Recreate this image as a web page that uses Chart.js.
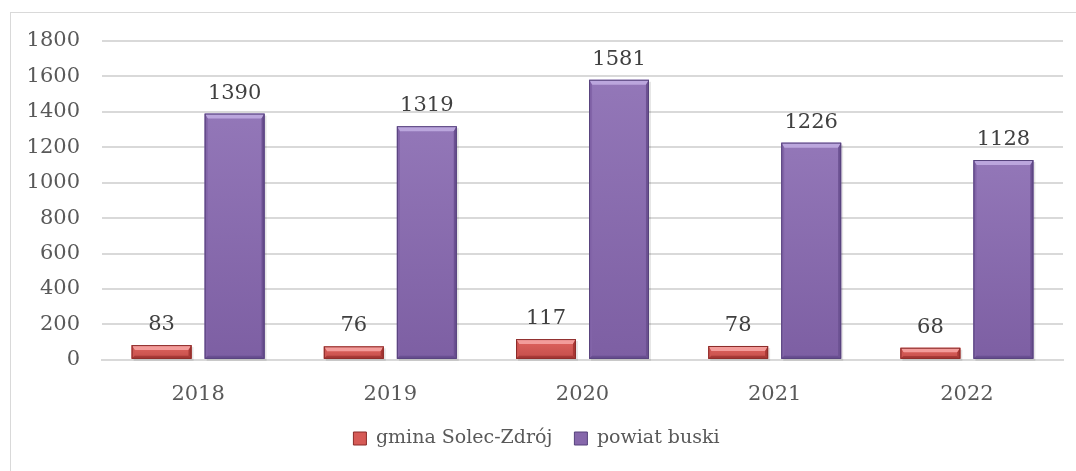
<!DOCTYPE html>
<html>
<head>
<meta charset="utf-8">
<script src="https://cdn.jsdelivr.net/npm/chart.js@4"></script>
<style>
  html, body { margin: 0; padding: 0; background: #ffffff; }
  #wrap { position: relative; width: 1076px; height: 471px; overflow: hidden; }
  #frame { position: absolute; left: 10px; top: 12px; width: 1080px; height: 480px;
           border-left: 1px solid #d9d9d9; border-top: 1px solid #d9d9d9; box-sizing: border-box; }
  canvas { position: absolute; left: 0; top: 0; }
</style>
</head>
<body>
<div id="wrap">
  <div id="frame"></div>
  <canvas id="c" width="1076" height="471"></canvas>
</div>
<script>
const categories = ['2018', '2019', '2020', '2021', '2022'];
const seriesNames = ['gmina Solec-Zdrój', 'powiat buski'];
const gminaValues = [83, 76, 117, 78, 68];
const powiatValues = [1390, 1319, 1581, 1226, 1128];
const yTickValues = [0, 200, 400, 600, 800, 1000, 1200, 1400, 1600, 1800];

const FONT = '"DejaVu Serif", "Liberation Serif", serif';

const palettes = [
  { body: '#d65a56', bodyTop: '#e0645f', bodyBot: '#c44e4a', top: '#f39c9a', left: '#cf5652', right: '#a93835', bottom: '#a83a37', edge: '#8a2b29' },
  { body: '#8667ab', bodyTop: '#9377b8', bodyBot: '#7d5fa3', top: '#bba6dd', left: '#8264a8', right: '#6c5192', bottom: '#6a4f92', edge: '#56427c' }
];

const bevelPlugin = {
  id: 'bevel',
  afterDatasetsDraw(chart) {
    const ctx = chart.ctx;
    chart.data.datasets.forEach((ds, di) => {
      const meta = chart.getDatasetMeta(di);
      const p = palettes[di];
      meta.data.forEach(bar => {
        const w = bar.width;
        const l = bar.x - w / 2, r = bar.x + w / 2;
        const t = Math.min(bar.y, bar.base), b = Math.max(bar.y, bar.base);
        const h = b - t;
        const bt = Math.min(5, h / 2.5), bs = 3, bb = Math.min(3, h / 4);
        ctx.save();
        ctx.fillStyle = 'rgba(0,0,0,0.10)';
        ctx.fillRect(l + 2, t + 2, w, h);
        const g = ctx.createLinearGradient(0, t, 0, b);
        g.addColorStop(0, p.bodyTop);
        g.addColorStop(1, p.bodyBot);
        ctx.fillStyle = g;
        ctx.fillRect(l, t, w, h);
        const poly = (pts, col) => {
          ctx.beginPath();
          ctx.moveTo(pts[0][0], pts[0][1]);
          for (let i = 1; i < pts.length; i++) ctx.lineTo(pts[i][0], pts[i][1]);
          ctx.closePath();
          ctx.fillStyle = col;
          ctx.fill();
        };
        poly([[l, t], [r, t], [r - bs, t + bt], [l + bs, t + bt]], p.top);
        poly([[l, t], [l + bs, t + bt], [l + bs, b - bb], [l, b]], p.left);
        poly([[r, t], [r, b], [r - bs, b - bb], [r - bs, t + bt]], p.right);
        poly([[l, b], [l + bs, b - bb], [r - bs, b - bb], [r, b]], p.bottom);
        ctx.strokeStyle = p.edge;
        ctx.lineWidth = 1;
        ctx.strokeRect(l + 0.5, t + 0.5, w - 1, h - 1);
        ctx.restore();
      });
    });
  }
};

const labelPlugin = {
  id: 'valueLabels',
  afterDatasetsDraw(chart) {
    const ctx = chart.ctx;
    ctx.save();
    ctx.font = '21px ' + FONT;
    ctx.fillStyle = '#404040';
    ctx.textAlign = 'center';
    ctx.textBaseline = 'alphabetic';
    chart.data.datasets.forEach((ds, di) => {
      const meta = chart.getDatasetMeta(di);
      meta.data.forEach((bar, i) => {
        ctx.fillText(String(ds.data[i]), bar.x, bar.y - 15);
      });
    });
    ctx.restore();
  }
};

const LEGEND_TRIM = 33;
const LEGEND_LIFT = 14;
const legendTrim = {
  id: 'legendTrim',
  beforeLayout(chart) {
    const lg = chart.legend;
    if (lg && !lg._trimmed) {
      const orig = lg.fit;
      lg.fit = function () { orig.call(this); this.height -= LEGEND_TRIM; };
      lg._trimmed = true;
    }
  },
  afterLayout(chart) {
    const lg = chart.legend;
    if (lg) {
      lg.top -= LEGEND_LIFT;
      lg.bottom = chart.height;
      lg.height = lg.bottom - lg.top;
    }
  }
};

new Chart(document.getElementById('c'), {
  type: 'bar',
  data: {
    labels: categories,
    datasets: [
      { label: seriesNames[0], data: gminaValues, backgroundColor: palettes[0].body, borderColor: palettes[0].edge, borderWidth: 1 },
      { label: seriesNames[1], data: powiatValues, backgroundColor: palettes[1].body, borderColor: palettes[1].edge, borderWidth: 1 }
    ]
  },
  options: {
    responsive: false,
    animation: false,
    devicePixelRatio: 1,
    layout: { padding: { left: 10, right: 13, top: 41, bottom: 32 } },
    datasets: { bar: { categoryPercentage: 0.76, barPercentage: 0.82 } },
    plugins: {
      legend: {
        position: 'bottom',
        labels: {
          font: { family: FONT, size: 19 },
          color: '#595959',
          boxWidth: 13,
          boxHeight: 13,
          padding: 22
        }
      },
      tooltip: { enabled: false }
    },
    scales: {
      x: {
        grid: { display: false },
        border: { display: true, color: '#d9d9d9', width: 2 },
        ticks: { font: { family: FONT, size: 21 }, color: '#595959', padding: 14 }
      },
      y: {
        min: 0,
        max: 1800,
        afterBuildTicks(axis) { axis.ticks = yTickValues.map(v => ({ value: v })); },
        afterFit(axis) { axis.width = 92; },
        grid: { color: '#d9d9d9', lineWidth: 2, drawTicks: false },
        border: { display: false },
        ticks: { font: { family: FONT, size: 21 }, color: '#595959', padding: 22, callback: v => String(v) }
      }
    }
  },
  plugins: [legendTrim, bevelPlugin, labelPlugin]
});
</script>
</body>
</html>
